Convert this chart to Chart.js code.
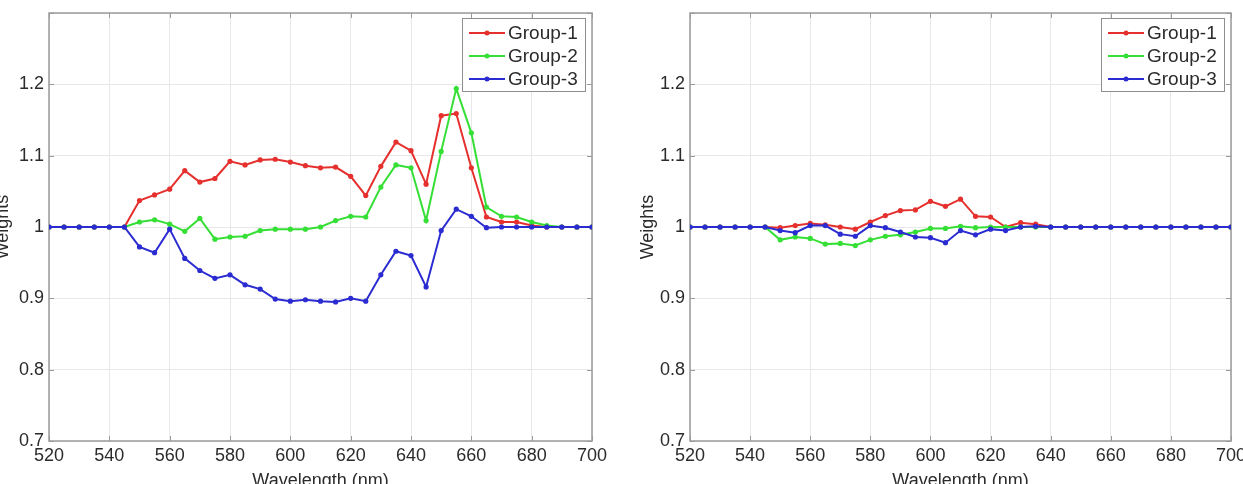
<!DOCTYPE html>
<html>
<head>
<meta charset="utf-8">
<script src="https://cdn.jsdelivr.net/npm/chart.js@4.4.1/dist/chart.umd.min.js"></script>
<style>
  html, body { margin: 0; padding: 0; background: #fff; }
  body { width: 1243px; height: 484px; overflow: hidden; position: relative; }
  .panel { position: absolute; top: 0; height: 500px; }
  #p1 { left: -8px; width: 628px; }
  #p2 { left: 633px; width: 610px; }
</style>
</head>
<body>
<div class="panel" id="p1"><canvas id="chartA"></canvas></div>
<div class="panel" id="p2"><canvas id="chartB"></canvas></div>
<script>
// wavelength (nm)
const wavelengths = [520, 525, 530, 535, 540, 545, 550, 555, 560, 565, 570, 575, 580, 585, 590, 595,
  600, 605, 610, 615, 620, 625, 630, 635, 640, 645, 650, 655, 660, 665, 670, 675, 680, 685, 690, 695, 700];

const groupNames = ["Group-1", "Group-2", "Group-3"];
const groupColors = ["#e5302e", "#35df35", "#2b2bd2"];

// left panel
const leftG1 = [1, 1, 1, 1, 1, 1, 1.037, 1.045, 1.053, 1.079, 1.063, 1.068, 1.092, 1.087, 1.094, 1.095,
  1.091, 1.086, 1.083, 1.084, 1.071, 1.044, 1.085, 1.119, 1.107, 1.060, 1.156, 1.159, 1.083, 1.014,
  1.007, 1.007, 1.002, 1.0, 1, 1, 1];
const leftG2 = [1, 1, 1, 1, 1, 1, 1.007, 1.010, 1.004, 0.994, 1.012, 0.983, 0.986, 0.987, 0.995, 0.997,
  0.997, 0.997, 1.0, 1.009, 1.015, 1.014, 1.056, 1.087, 1.083, 1.009, 1.106, 1.194, 1.132, 1.028,
  1.015, 1.014, 1.007, 1.002, 1, 1, 1];
const leftG3 = [1, 1, 1, 1, 1, 1, 0.972, 0.964, 0.997, 0.956, 0.939, 0.928, 0.933, 0.919, 0.913, 0.899,
  0.896, 0.898, 0.896, 0.895, 0.900, 0.896, 0.933, 0.966, 0.960, 0.916, 0.995, 1.025, 1.015, 0.999,
  1.0, 1.0, 1.0, 1.0, 1, 1, 1];

// right panel
const rightG1 = [1, 1, 1, 1, 1, 1, 0.999, 1.002, 1.005, 1.003, 1.0, 0.997, 1.007, 1.016, 1.023, 1.024,
  1.036, 1.029, 1.039, 1.015, 1.014, 1.0, 1.006, 1.004, 1, 1, 1, 1, 1, 1, 1, 1, 1, 1, 1, 1, 1];
const rightG2 = [1, 1, 1, 1, 1, 1, 0.982, 0.986, 0.984, 0.976, 0.977, 0.974, 0.982, 0.987, 0.989, 0.993,
  0.998, 0.998, 1.001, 0.999, 1.0, 1.0, 1.0, 1.0, 1, 1, 1, 1, 1, 1, 1, 1, 1, 1, 1, 1, 1];
const rightG3 = [1, 1, 1, 1, 1, 1, 0.995, 0.992, 1.002, 1.002, 0.990, 0.987, 1.002, 0.999, 0.993, 0.986,
  0.985, 0.978, 0.995, 0.989, 0.997, 0.995, 1.0, 1.001, 1, 1, 1, 1, 1, 1, 1, 1, 1, 1, 1, 1, 1];

const FONT = '"Liberation Sans", Arial, Helvetica, sans-serif';
const TEXT = "#2b2b2b";

// box + inward tick marks, matlab style
const framePlugin = {
  id: "frame",
  beforeDatasetsDraw(chart) {
    const ctx = chart.ctx;
    const a = chart.chartArea;
    const xs = chart.scales.x, ys = chart.scales.y;
    ctx.save();
    ctx.strokeStyle = "#9a9a9a";
    ctx.lineWidth = 1.5;
    ctx.strokeRect(a.left, a.top, a.right - a.left, a.bottom - a.top);
    ctx.lineWidth = 1;
    ctx.beginPath();
    xs.ticks.forEach(t => {
      const px = Math.round(xs.getPixelForValue(t.value)) + 0.5;
      ctx.moveTo(px, a.bottom); ctx.lineTo(px, a.bottom - 5);
      ctx.moveTo(px, a.top); ctx.lineTo(px, a.top + 5);
    });
    ys.ticks.forEach(t => {
      const py = Math.round(ys.getPixelForValue(t.value)) + 0.5;
      ctx.moveTo(a.left, py); ctx.lineTo(a.left + 5, py);
      ctx.moveTo(a.right, py); ctx.lineTo(a.right - 5, py);
    });
    ctx.stroke();
    ctx.restore();
  }
};

// legend box in the upper right corner of the axes
const boxLegend = {
  id: "boxLegend",
  afterDraw(chart) {
    const ctx = chart.ctx;
    const a = chart.chartArea;
    const w = 123, h = 73;
    const x0 = a.right - 7 - w, y0 = a.top + 5;
    ctx.save();
    ctx.fillStyle = "#fff";
    ctx.fillRect(x0, y0, w, h);
    ctx.strokeStyle = "#8e8e8e";
    ctx.lineWidth = 1;
    ctx.strokeRect(x0 + 0.5, y0 + 0.5, w, h);
    ctx.font = "19px " + FONT;
    ctx.textBaseline = "middle";
    chart.data.datasets.forEach((ds, i) => {
      const y = y0 + 15 + i * 23;
      ctx.strokeStyle = ds.borderColor;
      ctx.lineWidth = 2;
      ctx.beginPath();
      ctx.moveTo(x0 + 7, y);
      ctx.lineTo(x0 + 43, y);
      ctx.stroke();
      ctx.fillStyle = ds.borderColor;
      ctx.beginPath();
      ctx.arc(x0 + 25, y, 2.5, 0, Math.PI * 2);
      ctx.fill();
      ctx.fillStyle = TEXT;
      ctx.fillText(ds.label, x0 + 46, y + 1);
    });
    ctx.restore();
  }
};

function makeChart(id, series, padRight, yTitlePad) {
  const datasets = series.map((vals, i) => ({
    label: groupNames[i],
    data: wavelengths.map((w, k) => ({ x: w, y: vals[k] })),
    borderColor: groupColors[i],
    backgroundColor: groupColors[i],
    borderWidth: 2,
    pointRadius: 2.6,
    pointHoverRadius: 3,
    pointBorderWidth: 0,
    tension: 0,
    order: 2 - i // blue on top
  }));

  return new Chart(document.getElementById(id), {
    type: "line",
    data: { datasets: datasets },
    options: {
      responsive: true,
      maintainAspectRatio: false,
      animation: false,
      layout: { padding: { top: 13, right: padRight, left: 0, bottom: 0 } },
      plugins: { legend: { display: false }, tooltip: { enabled: false } },
      scales: {
        x: {
          type: "linear",
          min: 520,
          max: 700,
          afterFit: s => { s.height = 59; s.paddingLeft = 0; s.paddingRight = 0; },
          ticks: { stepSize: 20, padding: 4, color: TEXT, font: { family: FONT, size: 18 }, maxRotation: 0 },
          grid: { color: "#e8e8e8", lineWidth: 1, drawTicks: false },
          border: { display: false },
          title: { display: true, text: "Wavelength (nm)", color: TEXT, font: { family: FONT, size: 18 }, padding: { top: 4, bottom: 8 } }
        },
        y: {
          min: 0.7,
          max: 1.3,
          afterFit: s => { s.width = 57; s.paddingTop = 0; s.paddingBottom = 0; },
          ticks: {
            stepSize: 0.1,
            padding: 5,
            color: TEXT,
            font: { family: FONT, size: 18 },
            callback: v => (Math.abs(v - 1.3) < 1e-6 ? "" : String(+v.toFixed(1)))
          },
          grid: { color: "#e8e8e8", lineWidth: 1, drawTicks: false },
          border: { display: false },
          title: { display: true, text: "Weights", color: TEXT, font: { family: FONT, size: 18 }, padding: { top: yTitlePad, bottom: 4 } }
        }
      }
    },
    plugins: [framePlugin, boxLegend]
  });
}

makeChart("chartA", [leftG1, leftG2, leftG3], 28, 0);
makeChart("chartB", [rightG1, rightG2, rightG3], 12, 4);
</script>
</body>
</html>
